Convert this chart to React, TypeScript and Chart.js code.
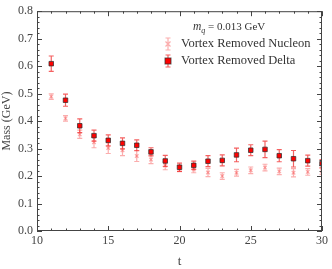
import React, { useEffect, useRef } from "react";
import { Chart, registerables } from "chart.js";

Chart.register(...registerables);

const tValues = [11, 12, 13, 14, 15, 16, 17, 18, 19, 20, 21, 22, 23, 24, 25, 26, 27, 28, 29, 30];
const deltaMass = [0.609, 0.476, 0.383, 0.347, 0.330, 0.319, 0.312, 0.288, 0.255, 0.232, 0.239, 0.254, 0.257, 0.277, 0.294, 0.297, 0.274, 0.263, 0.256, 0.245];
const deltaErr = [0.028, 0.022, 0.025, 0.02, 0.02, 0.02, 0.02, 0.015, 0.02, 0.015, 0.015, 0.02, 0.02, 0.025, 0.02, 0.03, 0.022, 0.03, 0.02, 0.015];
const nucleonMass = [0.489, 0.410, 0.352, 0.323, 0.302, 0.294, 0.273, 0.260, 0.238, 0.228, 0.224, 0.213, 0.200, 0.212, 0.221, 0.231, 0.217, 0.212, 0.215, 0.218];
const nucleonErr = [0.01, 0.01, 0.015, 0.02, 0.02, 0.02, 0.02, 0.015, 0.015, 0.012, 0.012, 0.015, 0.012, 0.012, 0.012, 0.012, 0.012, 0.015, 0.012, 0.012];
const seriesLabels = ["Vortex Removed Nucleon", "Vortex Removed Delta"];
const noteText = " = 0.013 GeV";

const SERIF = "'Liberation Serif', 'DejaVu Serif', serif";
const AXIS_COLOR = "#444";
const NUC_COLOR = "rgba(245, 60, 60, 0.42)";
const DELTA_BAR = "rgba(240, 30, 30, 0.7)";
const DELTA_FILL = "#ff0000";
const DELTA_EDGE = "rgba(50, 50, 50, 0.75)";

const errorBarPlugin = {
  id: "errorBars",
  beforeDatasetsDraw(chart: any) {
    const { ctx, chartArea, scales } = chart;
    const xs = scales.x;
    const ys = scales.y;
    ctx.save();
    ctx.beginPath();
    ctx.rect(chartArea.left, chartArea.top, chartArea.right - chartArea.left, chartArea.bottom - chartArea.top);
    ctx.clip();
    const draw = (vals: number[], errs: number[], color: string, cap: number) => {
      ctx.strokeStyle = color;
      ctx.lineWidth = 1.2;
      tValues.forEach((t, i) => {
        const px = xs.getPixelForValue(t);
        const y1 = ys.getPixelForValue(vals[i] - errs[i]);
        const y2 = ys.getPixelForValue(vals[i] + errs[i]);
        ctx.beginPath();
        ctx.moveTo(px, y1);
        ctx.lineTo(px, y2);
        ctx.moveTo(px - cap, y1);
        ctx.lineTo(px + cap, y1);
        ctx.moveTo(px - cap, y2);
        ctx.lineTo(px + cap, y2);
        ctx.stroke();
      });
    };
    draw(nucleonMass, nucleonErr, NUC_COLOR, 2.5);
    draw(deltaMass, deltaErr, DELTA_BAR, 2.5);
    ctx.restore();
  },
};

const frameTickPlugin = {
  id: "frameTicks",
  afterDraw(chart: any) {
    const { ctx, chartArea, scales } = chart;
    const xs = scales.x;
    const ys = scales.y;
    const { left, right, top, bottom } = chartArea;
    ctx.save();
    ctx.strokeStyle = AXIS_COLOR;
    ctx.lineWidth = 1;
    ctx.strokeRect(left + 0.5, top + 0.5, right - left - 1, bottom - top - 1);
    ctx.beginPath();
    for (let t = xs.min; t <= xs.max + 1e-9; t += 1) {
      const px = Math.round(xs.getPixelForValue(t)) + 0.5;
      const len = Math.round(t) % 5 === 0 ? 5 : 2.5;
      ctx.moveTo(px, bottom);
      ctx.lineTo(px, bottom - len);
      ctx.moveTo(px, top);
      ctx.lineTo(px, top + len);
    }
    for (let k = 0; k <= 40; k++) {
      const v = k * 0.02;
      const py = Math.round(ys.getPixelForValue(v)) + 0.5;
      const len = k % 5 === 0 ? 5 : 2.5;
      ctx.moveTo(left, py);
      ctx.lineTo(left + len, py);
      ctx.moveTo(right, py);
      ctx.lineTo(right - len, py);
    }
    ctx.stroke();

    // legend
    ctx.fillStyle = "#333";
    ctx.textBaseline = "alphabetic";
    ctx.font = `italic 11.5px ${SERIF}`;
    const mx = 193;
    const my = 30;
    ctx.fillText("m", mx, my);
    const mw = ctx.measureText("m").width;
    ctx.font = `italic 8px ${SERIF}`;
    ctx.fillText("q", mx + mw, my + 2.5);
    const qw = ctx.measureText("q").width;
    ctx.font = `11px ${SERIF}`;
    ctx.fillText(noteText, mx + mw + qw, my);

    const rows = [
      { y: 44, label: seriesLabels[0], kind: "n" },
      { y: 61, label: seriesLabels[1], kind: "d" },
    ];
    rows.forEach((r) => {
      const lx = 168;
      ctx.strokeStyle = r.kind === "n" ? NUC_COLOR : DELTA_BAR;
      ctx.lineWidth = 1.2;
      ctx.beginPath();
      ctx.moveTo(lx, r.y - 6);
      ctx.lineTo(lx, r.y + 6);
      ctx.moveTo(lx - 2.5, r.y - 6);
      ctx.lineTo(lx + 2.5, r.y - 6);
      ctx.moveTo(lx - 2.5, r.y + 6);
      ctx.lineTo(lx + 2.5, r.y + 6);
      if (r.kind === "n") {
        ctx.moveTo(lx - 2.5, r.y - 2.5);
        ctx.lineTo(lx + 2.5, r.y + 2.5);
        ctx.moveTo(lx + 2.5, r.y - 2.5);
        ctx.lineTo(lx - 2.5, r.y + 2.5);
      }
      ctx.stroke();
      if (r.kind === "d") {
        ctx.fillStyle = DELTA_FILL;
        ctx.strokeStyle = DELTA_EDGE;
        ctx.lineWidth = 1;
        ctx.fillRect(lx - 3, r.y - 3, 6, 6);
        ctx.strokeRect(lx - 3, r.y - 3, 6, 6);
      }
      ctx.fillStyle = "#333";
      ctx.font = `12.5px ${SERIF}`;
      ctx.textBaseline = "middle";
      ctx.fillText(r.label, 181, r.y);
      ctx.textBaseline = "alphabetic";
    });
    ctx.restore();
  },
};

export default function App() {
  const ref = useRef<HTMLCanvasElement | null>(null);
  useEffect(() => {
    document.body.style.margin = "0";
    const canvas = ref.current;
    if (!canvas) return;
    const chart = new Chart(canvas, {
      type: "scatter",
      data: {
        datasets: [
          {
            label: seriesLabels[0],
            data: tValues.map((t, i) => ({ x: t, y: nucleonMass[i] })),
            pointStyle: "crossRot",
            radius: 2.5,
            borderColor: NUC_COLOR,
            backgroundColor: NUC_COLOR,
            borderWidth: 1.2,
            clip: 0,
            order: 2,
          },
          {
            label: seriesLabels[1],
            data: tValues.map((t, i) => ({ x: t, y: deltaMass[i] })),
            pointStyle: "rect",
            radius: 3.2,
            borderColor: DELTA_EDGE,
            backgroundColor: DELTA_FILL,
            borderWidth: 1,
            clip: 0,
            order: 1,
          },
        ],
      },
      options: {
        animation: false,
        responsive: false,
        devicePixelRatio: 1,
        layout: { padding: { left: 0, right: 10, top: 10, bottom: 0 } },
        plugins: { legend: { display: false }, tooltip: { enabled: false } },
        scales: {
          x: {
            type: "linear",
            min: 10,
            max: 30,
            grid: { display: false, drawTicks: false },
            border: { display: false },
            ticks: {
              stepSize: 5,
              padding: 3,
              color: "#444",
              font: { family: SERIF, size: 12 },
            },
            title: {
              display: true,
              text: "t",
              color: "#444",
              font: { family: SERIF, size: 13 },
              padding: { top: 6, bottom: 0 },
            },
            afterFit: (s: any) => {
              s.height = 38;
            },
          },
          y: {
            type: "linear",
            min: 0,
            max: 0.8,
            grid: { display: false, drawTicks: false },
            border: { display: false },
            ticks: {
              stepSize: 0.1,
              padding: 4,
              color: "#444",
              font: { family: SERIF, size: 12 },
              callback: (v: any) => Number(v).toFixed(1),
            },
            title: {
              display: true,
              text: "Mass (GeV)",
              color: "#444",
              font: { family: SERIF, size: 12 },
              padding: { top: 0, bottom: 2 },
            },
            afterFit: (s: any) => {
              s.width = 37;
            },
          },
        },
      },
      plugins: [errorBarPlugin, frameTickPlugin],
    });
    return () => chart.destroy();
  }, []);
  return (
    <div style={{ width: 332, height: 269, position: "relative", background: "#fff" }}>
      <canvas ref={ref} width={332} height={269} style={{ display: "block" }} />
    </div>
  );
}
